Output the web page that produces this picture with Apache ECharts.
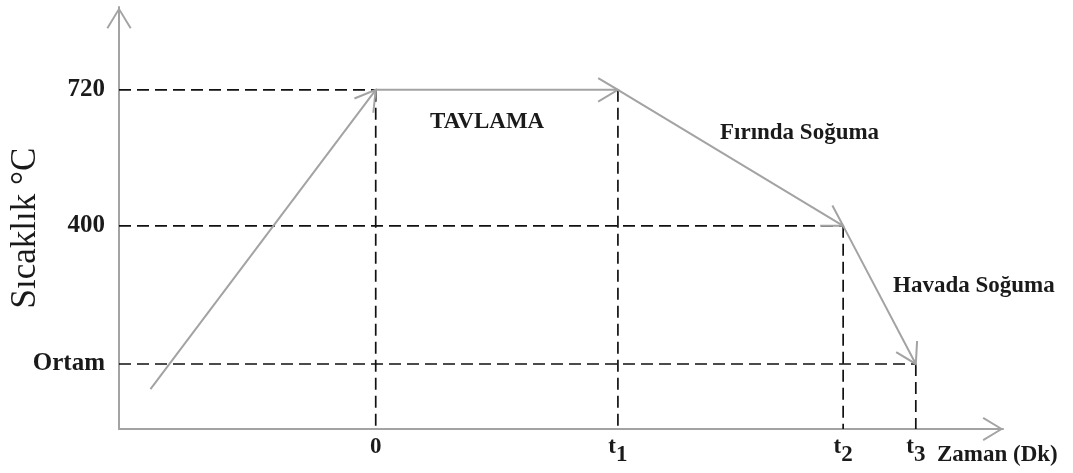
<!DOCTYPE html>
<html>
<head>
<meta charset="utf-8">
<style>
html, body { margin: 0; padding: 0; background: #fff; }
#chart { width: 1073px; height: 473px; }
</style>
<script src="https://cdn.jsdelivr.net/npm/echarts@6/dist/echarts.min.js"></script>
</head>
<body>
<div id="chart"></div>
<script>
// time marks on the x axis
var timeValues = [0, 100, 193, 223];
var timeLabels = ['0', 't1', 't2', 't3'];
// temperature at each time mark (where the dashed guides meet)
var guideTemp = [720, 720, 400, 75];
// labelled temperature levels
var tempValues = [75, 400, 720];
var tempLabels = ['Ortam', '400', '720'];
// heating -> tavlama -> furnace cooling -> air cooling
var pathTime = [-93, 0, 100, 193, 223];
var pathTemp = [16, 720, 720, 400, 75];
// phase captions
var notes = ['TAVLAMA', 'Fırında Soğuma', 'Havada Soğuma'];
var noteTime = [46, 175, 247];
var noteTemp = [645, 619, 259];

var X_MIN = -106, X_MAX = 259, Y_MIN = -78, Y_MAX = 915;
var SERIF = '"Liberation Serif", "Times New Roman", serif';
var GREY = '#a3a3a3';
var V_ARROW = 'path://M12.5,0 L25,20.5 L23.3,21.5 L12.5,3.6 L1.7,21.5 L0,20.5 Z';

var segments = [];
for (var i = 0; i < pathTime.length - 1; i++) {
    segments.push([pathTime[i], pathTemp[i], pathTime[i + 1], pathTemp[i + 1]]);
}

// dashed guides: horizontal from y axis to first mark at that level, vertical down to x axis
var hGuides = [], vGuides = [];
tempValues.forEach(function (t) {
    var k = guideTemp.indexOf(t);
    if (k >= 0) hGuides.push([X_MIN, t, timeValues[k], t]);
});
timeValues.forEach(function (tv, k) {
    vGuides.push([tv, guideTemp[k], tv, Y_MIN]);
});

var chart = echarts.init(document.getElementById('chart'));

function renderDash(params, api) {
    var a = api.coord([api.value(0), api.value(1)]);
    var b = api.coord([api.value(2), api.value(3)]);
    return {
        type: 'line',
        shape: { x1: a[0], y1: a[1], x2: b[0], y2: b[1] },
        style: { stroke: '#111', lineWidth: 1.7, lineDash: [12, 6] }
    };
}

function renderArrow(params, api) {
    var a = api.coord([api.value(0), api.value(1)]);
    var b = api.coord([api.value(2), api.value(3)]);
    var ang = Math.atan2(b[1] - a[1], b[0] - a[0]);
    var L = 23, w = 0.54;
    var p1 = [b[0] - L * Math.cos(ang - w), b[1] - L * Math.sin(ang - w)];
    var p2 = [b[0] - L * Math.cos(ang + w), b[1] - L * Math.sin(ang + w)];
    return {
        type: 'group',
        children: [
            { type: 'line', shape: { x1: a[0], y1: a[1], x2: b[0], y2: b[1] },
              style: { stroke: GREY, lineWidth: 2 } },
            { type: 'polyline', shape: { points: [p1, b, p2] },
              style: { stroke: GREY, lineWidth: 2, fill: null } }
        ]
    };
}

function renderNote(params, api) {
    var p = api.coord([api.value(0), api.value(1)]);
    return {
        type: 'text',
        x: p[0], y: p[1],
        style: {
            text: notes[params.dataIndex],
            font: 'bold 23px ' + SERIF,
            fill: '#1a1a1a',
            align: 'center',
            verticalAlign: 'middle'
        }
    };
}

var option = {
    animation: false,
    grid: { left: 116, right: 70, top: 7, bottom: 44 },
    xAxis: {
        type: 'value',
        min: X_MIN, max: X_MAX,
        splitLine: { show: false },
        axisTick: { show: false },
        axisLine: {
            onZero: false,
            symbol: ['none', V_ARROW],
            symbolSize: [24, 21],
            symbolOffset: [0, -10],
            lineStyle: { color: GREY, width: 2 }
        },
        axisLabel: {
            customValues: timeValues,
            margin: 7,
            formatter: function (v) {
                var s = timeLabels[timeValues.indexOf(v)];
                if (s.length > 1) return '{t|' + s[0] + '}{s|' + s.slice(1) + '}';
                return '{n|' + s + '}';
            },
            rich: {
                n: { fontFamily: SERIF, fontWeight: 'bold', fontSize: 23, color: '#1a1a1a', lineHeight: 23 },
                t: { fontFamily: SERIF, fontWeight: 'bold', fontSize: 23, color: '#1a1a1a', verticalAlign: 'top', lineHeight: 23 },
                s: { fontFamily: SERIF, fontWeight: 'bold', fontSize: 23, color: '#1a1a1a', verticalAlign: 'bottom', lineHeight: 31 }
            }
        },
        name: 'Zaman (Dk)',
        nameLocation: 'end',
        nameGap: -66,
        nameMoveOverlap: false,
        nameTextStyle: {
            fontFamily: SERIF, fontWeight: 'bold', fontSize: 23, color: '#1a1a1a',
            align: 'left', verticalAlign: 'top', padding: [15, 0, 0, 0]
        }
    },
    yAxis: {
        type: 'value',
        min: Y_MIN, max: Y_MAX,
        splitLine: { show: false },
        axisTick: { show: false },
        axisLine: {
            onZero: false,
            symbol: ['none', V_ARROW],
            symbolSize: [25, 22],
            symbolOffset: [0, -11],
            lineStyle: { color: GREY, width: 2 }
        },
        axisLabel: {
            customValues: tempValues,
            margin: 14,
            fontFamily: SERIF, fontWeight: 'bold', fontSize: 25, color: '#1a1a1a',
            formatter: function (v) { return tempLabels[tempValues.indexOf(v)]; }
        },
        name: 'Sıcaklık °C',
        nameLocation: 'middle',
        nameGap: 76,
        nameMoveOverlap: false,
        nameTextStyle: {
            fontFamily: SERIF, fontSize: 35, color: '#1a1a1a',
            padding: [0, 20, 0, 0]
        }
    },
    series: [
        { type: 'custom', name: 'hGuide', renderItem: renderDash, data: hGuides,
          encode: { x: [0, 2], y: [1, 3] }, clip: false, silent: true, z: 1 },
        { type: 'custom', name: 'vGuide', renderItem: renderDash, data: vGuides,
          encode: { x: [0, 2], y: [1, 3] }, clip: false, silent: true, z: 1 },
        { type: 'custom', name: 'path', renderItem: renderArrow, data: segments,
          encode: { x: [0, 2], y: [1, 3] }, clip: false, silent: true, z: 3 },
        { type: 'custom', name: 'notes', renderItem: renderNote,
          data: noteTime.map(function (t, i) { return [t, noteTemp[i]]; }),
          encode: { x: 0, y: 1 }, clip: false, silent: true, z: 4 }
    ]
};

chart.setOption(option);
</script>
</body>
</html>
